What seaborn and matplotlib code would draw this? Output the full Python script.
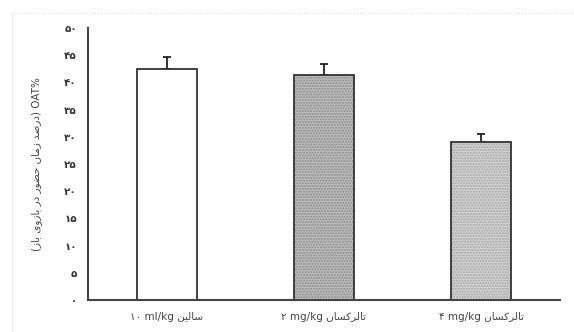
import matplotlib
matplotlib.use("Agg")
import matplotlib.pyplot as plt
from matplotlib.colors import to_rgba
from matplotlib.lines import Line2D
import pandas as pd
import seaborn as sns

# data
groups = ["سالین ۱۰ ml/kg", "تالرکسان ۲ mg/kg", "تالرکسان ۴ mg/kg"]
means = [42.5, 41.4, 29.0]
sem = [2.2, 2.0, 1.5]
yticks = [0, 5, 10, 15, 20, 25, 30, 35, 40, 45, 50]
ylabel_fa = "درصد زمان حضور در بازوی باز"

# minimal arabic shaping (matplotlib does not shape / reorder RTL text)
FORMS = {
    "ا": ("\uFE8D", "\uFE8E", None, None),
    "د": ("\uFEA9", "\uFEAA", None, None),
    "ر": ("\uFEAD", "\uFEAE", None, None),
    "ز": ("\uFEAF", "\uFEB0", None, None),
    "و": ("\uFEED", "\uFEEE", None, None),
    "ب": ("\uFE8F", "\uFE90", "\uFE91", "\uFE92"),
    "ت": ("\uFE95", "\uFE96", "\uFE97", "\uFE98"),
    "ح": ("\uFEA1", "\uFEA2", "\uFEA3", "\uFEA4"),
    "س": ("\uFEB1", "\uFEB2", "\uFEB3", "\uFEB4"),
    "ص": ("\uFEB9", "\uFEBA", "\uFEBB", "\uFEBC"),
    "ض": ("\uFEBD", "\uFEBE", "\uFEBF", "\uFEC0"),
    "ل": ("\uFEDD", "\uFEDE", "\uFEDF", "\uFEE0"),
    "م": ("\uFEE1", "\uFEE2", "\uFEE3", "\uFEE4"),
    "ن": ("\uFEE5", "\uFEE6", "\uFEE7", "\uFEE8"),
    "ک": ("\uFB8E", "\uFB8F", "\uFB90", "\uFB91"),
    "ی": ("\uFBFC", "\uFBFD", "\uFBFE", "\uFBFF"),
}


def shape_word(w):
    out = []
    for i, ch in enumerate(w):
        f = FORMS[ch]
        prev_j = i > 0 and FORMS[w[i - 1]][2] is not None
        next_j = f[2] is not None and i < len(w) - 1
        if prev_j and next_j:
            out.append(f[3])
        elif prev_j:
            out.append(f[1])
        elif next_j:
            out.append(f[2])
        else:
            out.append(f[0])
    return "".join(reversed(out))


def visual_label(s):
    # "<persian word> <digits> <unit>" -> visual LTR order
    word, num, unit = s.split(" ")
    return f"{num} {unit} {shape_word(word)}"


def visual_rtl_phrase(s):
    words = [shape_word(w) for w in s.split(" ")]
    return " ".join(reversed(words))


fa_digits = str.maketrans("0123456789", "۰۱۲۳۴۵۶۷۸۹")
df = pd.DataFrame({"group": [visual_label(g) for g in groups], "mean": means})

sns.set_style("white")
plt.rcParams["font.family"] = ["DejaVu Sans"]

fig = plt.figure(figsize=(5.74, 3.32), dpi=100)
ax = fig.add_axes([0.1533, 0.0964, 0.8223, 0.8193])

sns.barplot(data=df, x="group", y="mean", ax=ax, width=0.38,
            palette=["white", "#bdbdbd", "#d2d2d2"], hue="group", legend=False,
            edgecolor="#333333", linewidth=1.3, zorder=2)
# fine dotted texture, lighter than the outline
for i, p in enumerate(ax.patches):
    if i > 0:
        p.set_hatch("......")
        p._hatch_color = to_rgba("#8a8a8a" if i == 1 else "#a5a5a5")

ax.errorbar(range(len(means)), means, yerr=[[0] * len(sem), sem], fmt="none",
            ecolor="#222222", elinewidth=1.3, capsize=3, capthick=1.3, zorder=1)

ax.set_xlim(-0.5, 2.5)
ax.set_ylim(0, 50)
ax.set_yticks(yticks)
ax.set_yticklabels([str(t).translate(fa_digits) for t in yticks],
                   fontsize=7.5, fontweight="bold", color="#333333")
ax.tick_params(axis="x", labelsize=7.5, labelcolor="#444444", length=0, pad=9)
ax.tick_params(axis="y", length=0, pad=8)
ax.set_xlabel("")
ax.set_ylabel("(" + visual_rtl_phrase(ylabel_fa) + ") OAT%",
              fontsize=7.5, color="#444444", labelpad=16)

for side in ["top", "right"]:
    ax.spines[side].set_visible(False)
for side in ["left", "bottom"]:
    ax.spines[side].set_color("#444444")
    ax.spines[side].set_linewidth(1.5)

# light dotted frame lines (top and left) around the figure
top_y = 1 - 13 / 332
left_x = 12 / 574
fig.add_artist(Line2D([left_x, 1], [top_y, top_y], transform=fig.transFigure,
                      color="#dddddd", linestyle=":", linewidth=0.8))
fig.add_artist(Line2D([left_x, left_x], [0, top_y], transform=fig.transFigure,
                      color="#e6e6e6", linestyle="-", linewidth=0.6))

fig.savefig("out.png", dpi=100)
